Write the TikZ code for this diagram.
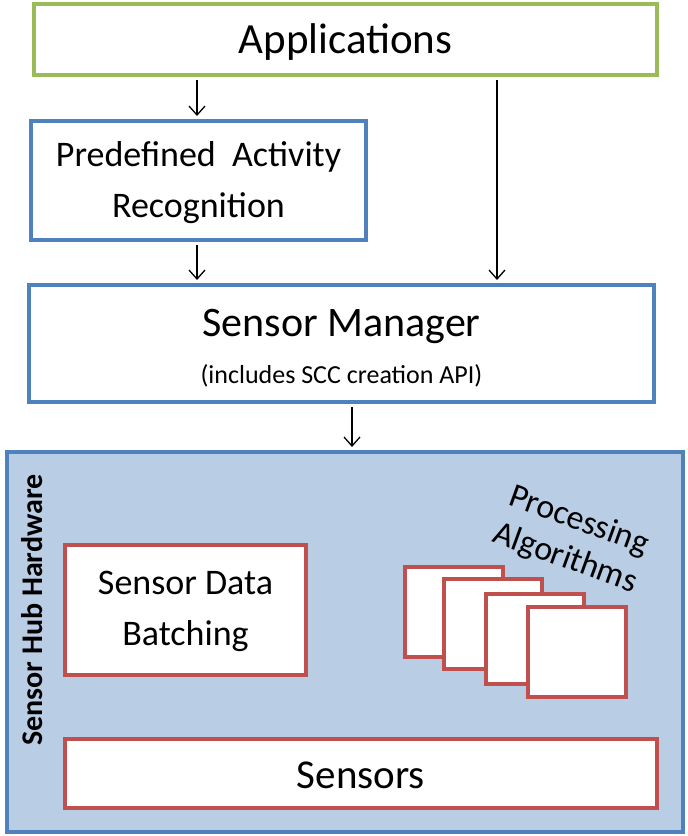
\documentclass[tikz,border=0pt]{standalone}
\usepackage{fontspec}
\setmainfont{Carlito}
\usetikzlibrary{arrows.meta}
\definecolor{appgreen}{HTML}{9BBB59}
\definecolor{boxblue}{HTML}{4F81BD}
\definecolor{boxred}{HTML}{C0504D}
\definecolor{hubfill}{HTML}{B9CDE5}
\tikzset{
  box/.style={draw, line width=4pt, fill=white, inner sep=0pt, align=center},
  greenbox/.style={box, draw=appgreen},
  bluebox/.style={box, draw=boxblue},
  redbox/.style={box, draw=boxred},
  arr/.style={-{Straight Barb[length=9pt,width=16pt,line width=1.3pt]}, line width=1.5pt, shorten <=3pt, shorten >=3pt}
}
\begin{document}
\begin{tikzpicture}[x=1pt,y=-1pt]
\useasboundingbox (0,0) rectangle (688,836);
\node[greenbox, minimum width=623pt, minimum height=71pt] (app) at (345.5,39.5) {};
\node[font=\fontsize{43}{46}\selectfont] (appt) at (345.5,42) {Applications};
\node[bluebox, minimum width=335pt, minimum height=119pt] (pred) at (198.5,180.5) {};
\node[font=\fontsize{36}{51}\selectfont, align=center] (predt) at (198.5,183) {Predefined\ \ Activity\\Recognition};
\node[bluebox, minimum width=625pt, minimum height=117pt] (mgr) at (341.5,343.5) {};
\node[font=\fontsize{42}{46}\selectfont] (mgrt) at (341.5,326) {Sensor Manager};
\node[font=\fontsize{26}{30}\selectfont] (mgrs) at (341.5,376) {(includes SCC creation API)};
\node[box, draw=boxblue, fill=hubfill, minimum width=676pt, minimum height=380pt] (hub) at (345,642) {};
\node[font=\fontsize{30}{34}\selectfont\bfseries, rotate=90] (hubt) at (32,610) {Sensor Hub Hardware};
\node[redbox, minimum width=241pt, minimum height=130pt] (batch) at (185.5,610) {};
\node[font=\fontsize{36}{51}\selectfont, align=center] (batcht) at (185.5,611) {Sensor Data\\Batching};
\node[redbox, minimum width=98pt, minimum height=90pt] (sq1) at (454,611.5) {};
\node[redbox, minimum width=98pt, minimum height=90pt] (sq2) at (493,624) {};
\node[redbox, minimum width=98pt, minimum height=90pt] (sq3) at (534.5,638.5) {};
\node[redbox, minimum width=98pt, minimum height=90pt] (sq4) at (577,652) {};
\node[font=\fontsize{34}{40}\selectfont, rotate=-20, align=center] (proc) at (572,540) {Processing\\Algorithms};
\node[redbox, minimum width=592pt, minimum height=69pt] (sens) at (361,773.5) {};
\node[font=\fontsize{41}{44}\selectfont] (senst) at (361,775) {Sensors};
\coordinate (c1) at (197,0);
\coordinate (c2) at (497,0);
\coordinate (c3) at (352,0);
\draw[arr] (app.south -| c1) -- (pred.north -| c1);
\draw[arr] (pred.south -| c1) -- (mgr.north -| c1);
\draw[arr] (app.south -| c2) -- (mgr.north -| c2);
\draw[arr] (mgr.south -| c3) -- (hub.north -| c3);
\end{tikzpicture}
\end{document}
